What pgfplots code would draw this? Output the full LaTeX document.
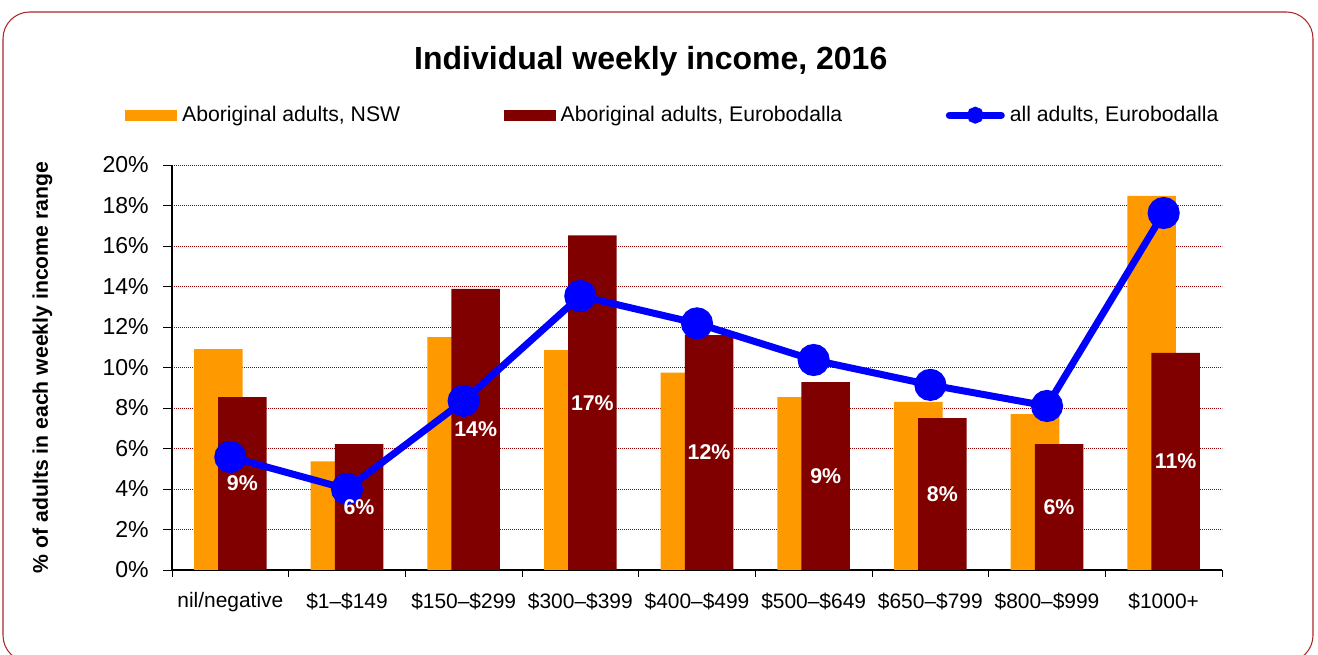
\documentclass[border=0pt]{standalone}
\usepackage{fontspec}
\setmainfont{Liberation Sans}
\usepackage{pgfplots}
\pgfplotsset{compat=1.18}
\usepackage{pgfplotstable}
\definecolor{nsworange}{RGB}{255,153,0}
\definecolor{eurored}{RGB}{128,0,0}
\definecolor{gridred}{RGB}{150,0,0}
\definecolor{framered}{RGB}{170,40,40}

\pgfplotstableread{
x   nsw   euro  all   lbl
0.5 10.91 8.54  5.58  9
1.5 5.36  6.22  4.00  6
2.5 11.50 13.88 8.35  14
3.5 10.86 16.52 13.53 17
4.5 9.75  11.60 12.18 12
5.5 8.54  9.28  10.37 9
6.5 8.30  7.50  9.14  8
7.5 7.70  6.22  8.10  6
8.5 18.47 10.72 17.63 11
}\datatable

\begin{document}
\begin{tikzpicture}
\useasboundingbox (0,0) rectangle (988.5pt,-491.25pt);
\draw[framered, line width=0.8pt, rounded corners=20pt] (2.25pt,-9pt) rectangle (984.75pt,-496.5pt);
\begin{axis}[
  at={(129pt,-427.5pt)}, anchor=south west,
  scale only axis, width=787.5pt, height=303.75pt,
  xmin=0, xmax=9, ymin=0, ymax=20,
  axis x line*=bottom, axis y line*=left,
  axis line style={-, black, line width=0.8pt},
  tick align=outside,
  xtick={0.5,1.5,...,8.5},
  xticklabels={nil/negative,\$1--\$149,\$150--\$299,\$300--\$399,\$400--\$499,\$500--\$649,\$650--\$799,\$800--\$999,\$1000+},
  major x tick style={draw=none},
  minor xtick={0,1,...,9},
  minor tick length=5.25pt,
  major tick length=6.75pt,
  every tick/.style={black, line width=0.6pt},
  ytick={0,2,...,20},
  yticklabel={\pgfmathprintnumber{\tick}\%},
  /pgf/number format/assume math mode=true,
  ymajorgrids=true,
  major grid style={gridred, line width=0.6pt, dash pattern=on 0.9pt off 0.6pt},
  yticklabel style={font=\fontsize{17.3}{20}\selectfont, inner sep=0pt, xshift=-10.5pt},
  xticklabel style={font=\fontsize{15.7}{19}\selectfont, inner sep=0pt, yshift=-10pt},
  ylabel={\% of adults in each weekly income range},
  ylabel style={at={(axis description cs:-0.1233,0.5)}, anchor=center, font=\bfseries\fontsize{15.9}{19}\selectfont},
  title={Individual weekly income, 2016},
  title style={at={(axis description cs:0.456,1.237)}, anchor=center, font=\bfseries\fontsize{24}{29}\selectfont},
  legend columns=3,
  legend style={draw=none, fill=none, at={(axis description cs:-0.0448,1.123)}, anchor=west,
    inner sep=0pt, font=\fontsize{15.9}{19}\selectfont, cells={anchor=west}, nodes={inner sep=0pt},
    /tikz/every odd column/.append style={column sep=3.75pt},
    /tikz/every even column/.append style={column sep=77.6pt}},
]
\addplot[ybar, bar width=0.416, bar shift=-0.103, fill=nsworange, draw=none,
  legend image code/.code={\fill[nsworange] (0pt,-4.1pt) rectangle (39pt,4.1pt);}]
  table[x=x, y=nsw]{\datatable};
\addplot[ybar, bar width=0.416, bar shift=0.103, fill=eurored, draw=none,
  legend image code/.code={\fill[eurored] (0pt,-4.1pt) rectangle (39pt,4.1pt);}]
  table[x=x, y=euro]{\datatable};
\addplot[blue, line width=5.25pt, mark=*, mark size=9.4pt, mark options={draw=none, fill=blue},
  legend image code/.code={\draw[blue, line width=5.25pt, line cap=round] (2.6pt,0pt) -- (41.6pt,0pt); \fill[blue] (22.1pt,0pt) circle (3.6pt);}]
  table[x=x, y=all]{\datatable};
\addplot[forget plot, draw=none, mark=none, nodes near coords={\pgfplotspointmeta\%}, point meta=explicit symbolic,
  nodes near coords style={white, font=\bfseries\fontsize{16}{19}\selectfont, anchor=center, inner sep=0pt}]
  table[x expr=\thisrow{x}+0.103, y expr=\thisrow{euro}/2, meta=lbl]{\datatable};
\legend{{Aboriginal adults, NSW},{Aboriginal adults, Eurobodalla},{all adults, Eurobodalla}}
\end{axis}
\end{tikzpicture}
\end{document}
